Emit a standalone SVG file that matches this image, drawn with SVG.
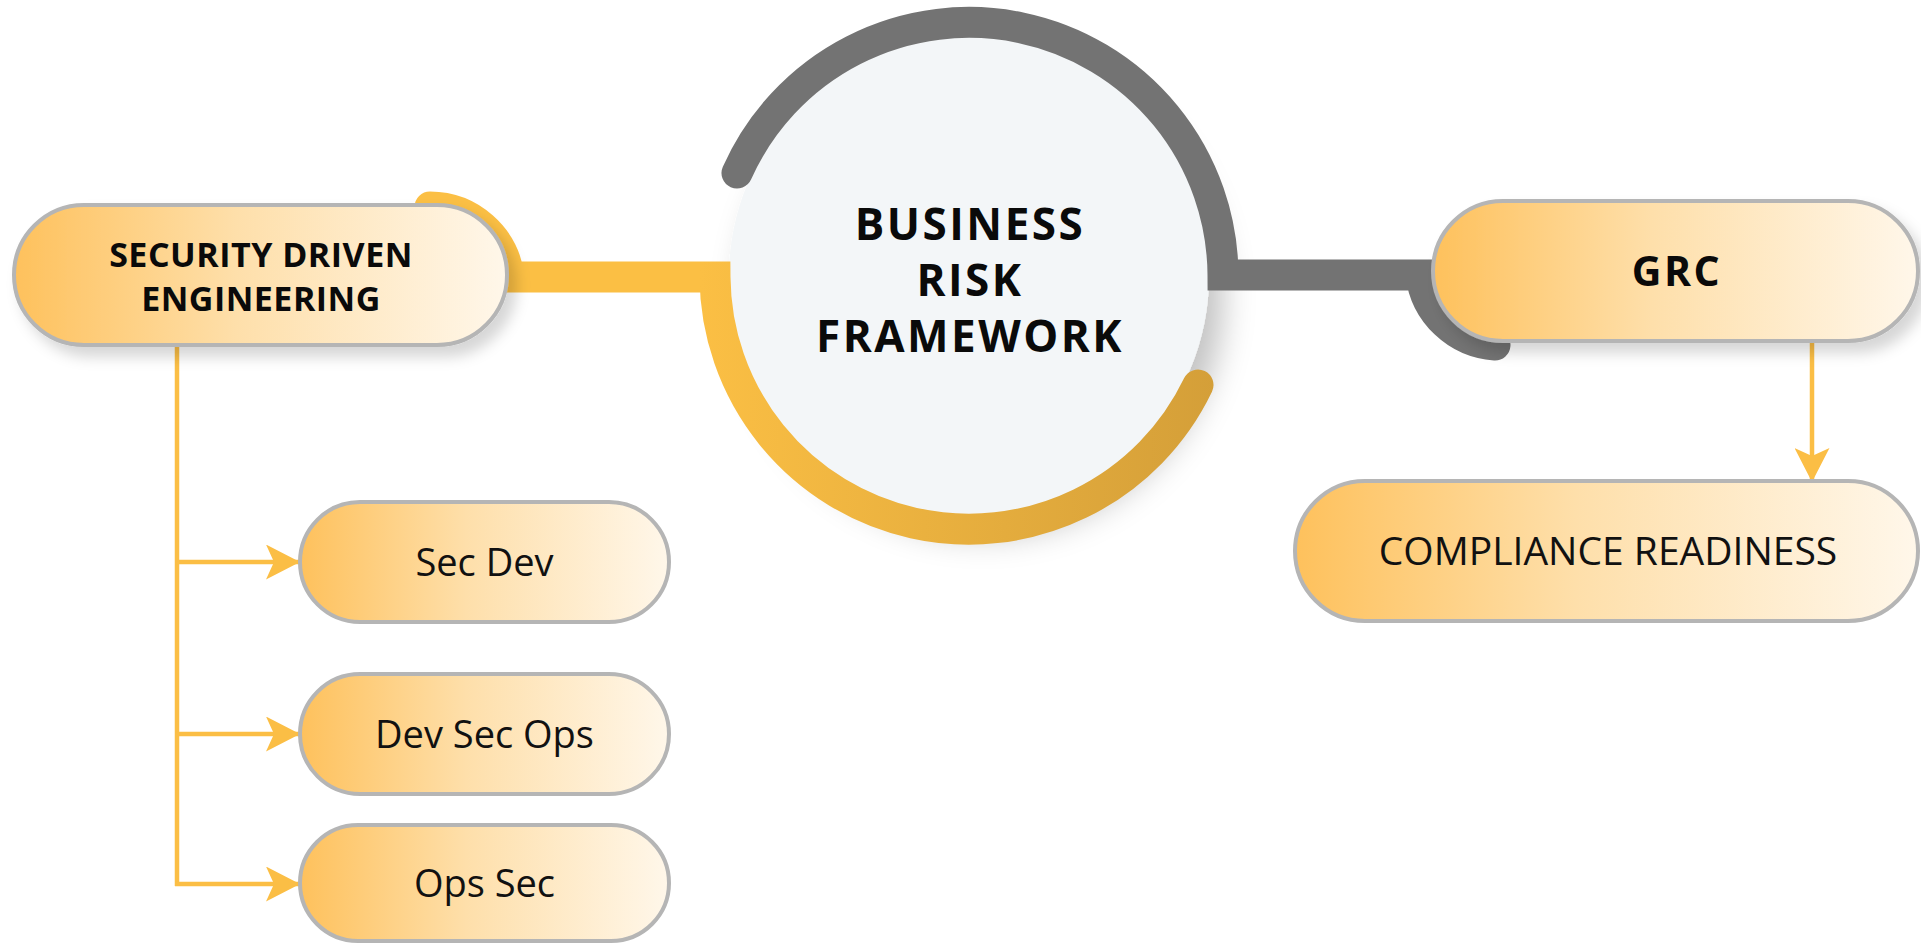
<svg xmlns="http://www.w3.org/2000/svg" width="1921" height="943" viewBox="0 0 1921 943">
<defs>
<style>
.pill{stroke:#B5B5B5;stroke-width:4;fill:url(#pillGrad)}
.bold{font-family:"Open Sans","Liberation Sans",sans-serif;font-weight:700;fill:#0a0a0a;text-anchor:middle}
.reg{font-family:"Open Sans","Liberation Sans",sans-serif;font-weight:400;fill:#111;text-anchor:middle;font-size:38px}
.thin{fill:none;stroke:#FBBE45;stroke-width:4.5}
</style>
<linearGradient id="pillGrad" x1="0" y1="0" x2="1" y2="0">
<stop offset="0" stop-color="#FEC15C"/>
<stop offset="0.45" stop-color="#FEDFAA"/>
<stop offset="1" stop-color="#FFF7EA"/>
</linearGradient>
<linearGradient id="yellowGrad" gradientUnits="userSpaceOnUse" x1="700" y1="0" x2="1230" y2="0">
<stop offset="0" stop-color="#FBBF44"/>
<stop offset="1" stop-color="#D39E38"/>
</linearGradient>
<filter id="circleShadow" x="-30%" y="-30%" width="170%" height="170%">
<feDropShadow dx="14" dy="20" stdDeviation="16" flood-color="#000" flood-opacity="0.24"/>
</filter>
<filter id="pillShadow" x="-10%" y="-20%" width="130%" height="160%">
<feDropShadow dx="8" dy="10" stdDeviation="7" flood-color="#000" flood-opacity="0.16"/>
</filter>
<marker id="arrow" markerUnits="userSpaceOnUse" markerWidth="34" markerHeight="35" refX="34" refY="17.5" orient="auto">
<path d="M0,0 L34,17.5 L0,35 L8,17.5 Z" fill="#FBBE45"/>
</marker>
</defs>
<rect width="1921" height="943" fill="#FFFFFF"/>

<g id="node-business-risk-framework">
<circle cx="969" cy="276" r="240" fill="#F3F6F8" filter="url(#circleShadow)"/>
</g>

<g id="connectors">
<path d="M737,173 A254,254 0 0 1 1223,275 H1421 A80,80 0 0 0 1495,345" fill="none" stroke="#737373" stroke-width="31" stroke-linecap="round" stroke-linejoin="miter"/>
<path d="M430,207 A80,80 0 0 1 509,277 H715 A254,254 0 0 0 1198,385" fill="none" stroke="url(#yellowGrad)" stroke-width="31" stroke-linecap="round" stroke-linejoin="miter"/>
<path class="thin" d="M177,343 V886"/>
<line class="thin" x1="175" y1="562" x2="300" y2="562" marker-end="url(#arrow)"/>
<line class="thin" x1="175" y1="734" x2="300" y2="734" marker-end="url(#arrow)"/>
<line class="thin" x1="175" y1="884" x2="300" y2="884" marker-end="url(#arrow)"/>
<line class="thin" x1="1812" y1="343" x2="1812" y2="482" marker-end="url(#arrow)"/>
</g>

<g id="node-business-risk-framework-label">
<text class="bold" font-size="44" letter-spacing="2.5" x="970" y="240">BUSINESS</text>
<text class="bold" font-size="44" letter-spacing="2.5" x="970" y="296">RISK</text>
<text class="bold" font-size="44" letter-spacing="2.5" x="970" y="352">FRAMEWORK</text>
</g>

<g id="node-security-driven-engineering">
<rect class="pill" x="14" y="205" width="493" height="140" rx="70" filter="url(#pillShadow)"/>
<text class="bold" font-size="34" letter-spacing="0.5" x="261" y="267">SECURITY DRIVEN</text>
<text class="bold" font-size="34" letter-spacing="0.5" x="261" y="311">ENGINEERING</text>
</g>

<g id="node-grc">
<rect class="pill" x="1433" y="201" width="485" height="140" rx="70" filter="url(#pillShadow)"/>
<text class="bold" font-size="41" letter-spacing="2.5" x="1677" y="286">GRC</text>
</g>

<g id="node-compliance-readiness">
<rect class="pill" x="1295" y="481" width="623" height="140" rx="70"/>
<text class="reg" style="font-size:39px" x="1608" y="565">COMPLIANCE READINESS</text>
</g>

<g id="node-sec-dev">
<rect class="pill" x="300" y="502" width="369" height="120" rx="60"/>
<text class="reg" x="484.5" y="576">Sec Dev</text>
</g>

<g id="node-dev-sec-ops">
<rect class="pill" x="300" y="674" width="369" height="120" rx="60"/>
<text class="reg" x="484.5" y="748">Dev Sec Ops</text>
</g>

<g id="node-ops-sec">
<rect class="pill" x="300" y="825" width="369" height="116" rx="58"/>
<text class="reg" x="484.5" y="897">Ops Sec</text>
</g>
</svg>
